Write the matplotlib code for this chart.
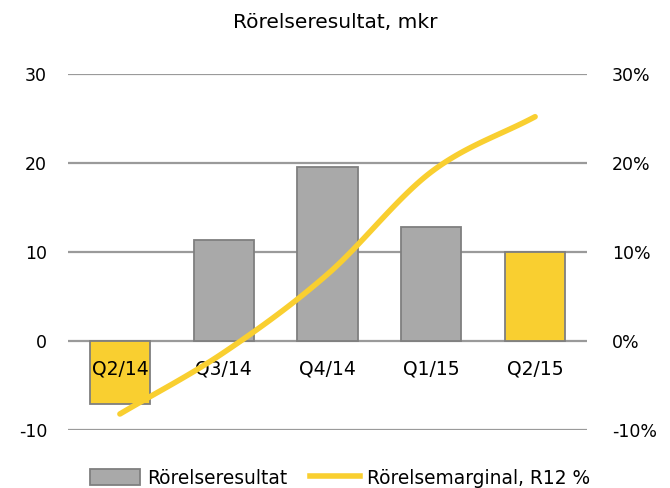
import numpy as np
import matplotlib
matplotlib.use("Agg")
import matplotlib.pyplot as plt
from matplotlib.lines import Line2D
from matplotlib.patches import Patch

categories = ["Q2/14", "Q3/14", "Q4/14", "Q1/15", "Q2/15"]
rorelseresultat = [-7.1, 11.4, 19.5, 12.8, 10.0]
marginal_pct = [-8.2, -1.3, 7.5, 19.0, 25.2]
left_ticks = [-10, 0, 10, 20, 30]
right_ticks = ["-10%", "0%", "10%", "20%", "30%"]

GRAY = "#A9A9A9"
EDGE = "#7F7F7F"
YELLOW = "#F9CF30"
bar_colors = [YELLOW, GRAY, GRAY, GRAY, YELLOW]

plt.rcParams['font.family'] = ['DejaVu Sans']

fig = plt.figure(figsize=(6.70, 4.88), dpi=100)
W, H = 670, 488
ax = fig.add_axes([68 / W, 1 - 430 / H, (587 - 68) / W, (430 - 74) / H])

x = np.arange(len(categories))
ax.set_xlim(-0.5, len(categories) - 0.5)
ax.set_ylim(-10, 30)
for t in left_ticks:
    ax.axhline(t, color="#9A9A9A", lw=1.6, zorder=0)
ax.bar(x, rorelseresultat, width=0.58, color=bar_colors, edgecolor=EDGE, linewidth=1.3, zorder=2)

# smooth line (Catmull-Rom through the data points)
ax2 = ax.twinx()
ax2.set_ylim(-10, 30)
pts = np.column_stack([x, marginal_pct]).astype(float)
ext = np.vstack([2 * pts[0] - pts[1], pts, 2 * pts[-1] - pts[-2]])
cx, cy = [], []
for i in range(1, len(ext) - 2):
    p0, p1, p2, p3 = ext[i - 1], ext[i], ext[i + 1], ext[i + 2]
    t = np.linspace(0, 1, 30)[:, None]
    seg = 0.5 * ((2 * p1) + (-p0 + p2) * t + (2 * p0 - 5 * p1 + 4 * p2 - p3) * t ** 2
                 + (-p0 + 3 * p1 - 3 * p2 + p3) * t ** 3)
    cx.extend(seg[:, 0]); cy.extend(seg[:, 1])
ax2.plot(cx, cy, color=YELLOW, lw=4, solid_capstyle="round", zorder=3)

for a in (ax, ax2):
    for s in a.spines.values():
        s.set_visible(False)
    a.tick_params(length=0, labelsize=12.5)

ax.set_yticks(left_ticks)
ax.set_yticklabels([str(v) for v in left_ticks])
ax.tick_params(axis="y", pad=15)
ax2.set_yticks(left_ticks)
ax2.set_yticklabels(right_ticks)
ax2.tick_params(axis="y", pad=18)
ax.set_xticks([])

for xi, lab in zip(x, categories):
    ax.text(xi, -2.1, lab, ha="center", va="top", fontsize=13.5, zorder=4)

fig.text(0.5, 1 - 22 / H, "Rörelseresultat, mkr", ha="center", va="center", fontsize=14.5)

handles = [Patch(facecolor=GRAY, edgecolor=EDGE, linewidth=1.3),
           Line2D([0], [0], color=YELLOW, lw=4)]
fig.legend(handles, ["Rörelseresultat", "Rörelsemarginal, R12 %"], loc="center",
           bbox_to_anchor=(340 / W, 1 - 478 / H), ncol=2, frameon=False, fontsize=13.4,
           handlelength=2.67, handleheight=0.9, handletextpad=0.37, columnspacing=1.23,
           borderpad=0.1)

fig.savefig("out.png", dpi=100)
